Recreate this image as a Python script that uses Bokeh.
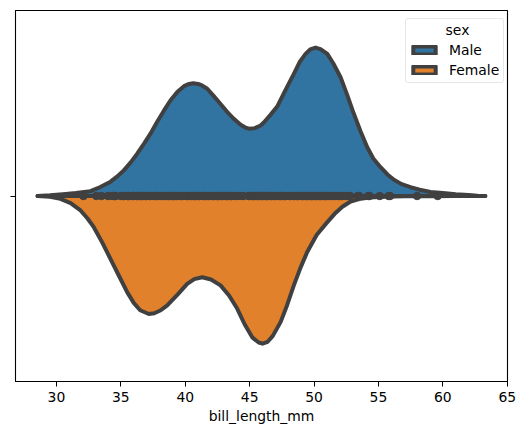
from bokeh.plotting import figure
from bokeh.models import Range1d, FixedTicker, Legend, LegendItem, ColumnDataSource, Label
from bokeh.embed import file_html
from bokeh.resources import INLINE

# ---- data (split violin of bill_length_mm by sex) ----
male_x = [28.53, 29.5, 30.5, 31.5, 32.64, 33.4, 34.2, 34.7, 35.23, 35.75, 36.27, 36.8, 37.3,
          37.8, 38.34, 38.86, 39.38, 39.9, 40.3, 40.62, 41.0, 41.3, 41.71, 42.2, 42.74, 43.25,
          43.77, 44.3, 44.7, 45.02, 45.4, 45.85, 46.1, 46.6, 47.14, 47.7, 48.43, 48.9, 49.34,
          49.7, 50.12, 50.5, 51.03, 51.5, 52.06, 52.6, 53.09, 53.6, 54.13, 54.6, 55.16, 55.7,
          56.2, 56.8, 57.49, 58.2, 59.05, 60.0, 61.0, 62.0, 62.7, 63.3]
male_w = [0.000, 0.002, 0.005, 0.008, 0.013, 0.024, 0.0386, 0.052, 0.069, 0.090, 0.114, 0.141,
          0.168, 0.199, 0.230, 0.258, 0.280, 0.296, 0.302, 0.304, 0.302, 0.298, 0.289, 0.270,
          0.248, 0.227, 0.208, 0.192, 0.184, 0.181, 0.183, 0.190, 0.198, 0.218, 0.241, 0.280,
          0.329, 0.362, 0.383, 0.395, 0.400, 0.396, 0.383, 0.357, 0.320, 0.270, 0.2215, 0.175,
          0.1315, 0.101, 0.0776, 0.058, 0.0437, 0.032, 0.0237, 0.017, 0.011, 0.008, 0.005,
          0.003, 0.001, 0.000]

female_x = [28.53, 29.5, 30.31, 31.1, 31.87, 32.4, 32.9, 33.55, 34.2, 34.85, 35.49, 36.0, 36.5,
            37.17, 37.6, 38.1, 38.6, 39.4, 40.15, 40.7, 41.32, 42.0, 42.74, 43.4, 44.04, 44.6,
            45.2, 45.7, 46.0, 46.4, 46.8, 47.4, 47.9, 48.43, 48.95, 49.47, 50.2, 51.03, 51.6,
            52.2, 52.84, 53.5, 54.3, 55.5, 57.0, 59.0, 61.0, 63.3]
female_w = [0.000, 0.002, 0.0075, 0.019, 0.039, 0.060, 0.084, 0.125, 0.170, 0.215, 0.259, 0.288,
            0.308, 0.318, 0.316, 0.308, 0.295, 0.266, 0.237, 0.224, 0.219, 0.225, 0.241, 0.268,
            0.304, 0.345, 0.381, 0.395, 0.398, 0.393, 0.377, 0.340, 0.295, 0.241, 0.193, 0.151,
            0.105, 0.0705, 0.048, 0.029, 0.015, 0.008, 0.004, 0.002, 0.001, 0.0005, 0.0002, 0.000]

# observations drawn as inner points
obs = [32.1, 33.1, 33.5, 34.0, 34.1, 34.4, 34.5, 34.6, 35.0, 35.1, 35.2, 35.3, 35.5, 35.6,
       35.7, 35.9, 36.0, 36.2, 36.3, 36.4, 36.5, 36.6, 36.7, 36.8, 36.9, 37.0, 37.2, 37.3,
       37.5, 37.6, 37.7, 37.8, 37.9, 38.1, 38.2, 38.3, 38.5, 38.6, 38.7, 38.8, 38.9, 39.0,
       39.1, 39.2, 39.3, 39.5, 39.6, 39.7, 39.8, 40.1, 40.2, 40.3, 40.5, 40.6, 40.7, 40.8,
       40.9, 41.0, 41.1, 41.3, 41.4, 41.5, 41.6, 41.7, 41.8, 42.0, 42.1, 42.2, 42.3, 42.4,
       42.5, 42.6, 42.7, 42.8, 42.9, 43.1, 43.2, 43.3, 43.4, 43.5, 43.6, 43.8, 44.0, 44.1,
       44.4, 44.5, 44.9, 45.0, 45.1, 45.2, 45.3, 45.4, 45.5, 45.6, 45.7, 45.8, 45.9, 46.0,
       46.1, 46.2, 46.3, 46.4, 46.5, 46.6, 46.7, 46.8, 46.9, 47.0, 47.2, 47.3, 47.4, 47.5,
       47.6, 47.7, 47.8, 48.1, 48.2, 48.4, 48.5, 48.6, 48.7, 48.8, 49.0, 49.1, 49.2, 49.3,
       49.4, 49.5, 49.6, 49.7, 49.8, 49.9, 50.0, 50.1, 50.2, 50.3, 50.4, 50.5, 50.6, 50.7,
       50.8, 50.9, 51.0, 51.1, 51.3, 51.4, 51.5, 51.7, 51.9, 52.0, 52.1, 52.2, 52.5, 52.7,
       52.8, 53.4, 53.5, 54.2, 54.3, 55.1, 55.8, 55.9, 58.0, 59.6]

sex_labels = ["Male", "Female"]
legend_title = "sex"
colors = ["#3274a1", "#e1812c"]
x_ticks = [30, 35, 40, 45, 50, 55, 60, 65]
line_col = "#404040"
FONT = "DejaVu Sans"

p = figure(width=527, height=433, output_backend="svg", toolbar_location=None,
           x_range=Range1d(26.82, 65.02), y_range=Range1d(-0.5, 0.5))
p.min_border = 0
p.min_border_left = 15
p.min_border_right = 20
p.min_border_top = 10
p.min_border_bottom = 52
p.xgrid.visible = False
p.ygrid.visible = False
p.outline_line_color = "black"
p.outline_line_width = 1.1
p.background_fill_color = "white"
p.border_fill_color = "white"

# violin halves: polygon from outline back along centre line
male_src = ColumnDataSource(dict(x=male_x + male_x[::-1],
                                 y=male_w + [0.0 * v for v in male_w[::-1]]))
female_src = ColumnDataSource(dict(x=female_x + female_x[::-1],
                                   y=[-v for v in female_w] + [0.0 * v for v in female_w[::-1]]))

r_m = p.patch("x", "y", source=male_src, fill_color=colors[0], line_color=line_col,
              line_width=4, line_join="round")
r_f = p.patch("x", "y", source=female_src, fill_color=colors[1], line_color=line_col,
              line_width=4, line_join="round")

p.scatter(obs, [0.0 * v for v in obs], size=7.5, fill_color=line_col, line_color=line_col)

# axes
xa = p.xaxis[0]
xa.ticker = FixedTicker(ticks=x_ticks)
xa.axis_label = "bill_length_mm"
xa.axis_label_text_font = FONT
xa.axis_label_text_font_style = "normal"
xa.axis_label_text_font_size = "13.9px"
xa.axis_label_text_color = "black"
xa.axis_label_standoff = 3
xa.major_label_text_font = FONT
xa.major_label_text_font_size = "13.9px"
xa.major_label_text_color = "black"
xa.major_label_standoff = 5
xa.major_tick_in = 0
xa.major_tick_out = 5
xa.minor_tick_out = 0
xa.minor_tick_in = 0
xa.axis_line_color = "black"
xa.major_tick_line_color = "black"

ya = p.yaxis[0]
ya.ticker = FixedTicker(ticks=[0])
ya.major_label_overrides = {0: ""}
ya.major_label_text_font_size = "1px"
ya.major_label_standoff = 0
ya.major_tick_in = 0
ya.major_tick_out = 5
ya.minor_tick_out = 0
ya.minor_tick_in = 0
ya.axis_line_color = "black"
ya.major_tick_line_color = "black"

legend = Legend(items=[LegendItem(label=sex_labels[0], renderers=[r_m]),
                       LegendItem(label=sex_labels[1], renderers=[r_f])],
                location=(390, 298), title=" ")
legend.title_text_font = FONT
legend.title_text_font_size = "13.9px"
legend.title_standoff = 3
legend.label_text_font = FONT
legend.label_text_font_size = "13.9px"
legend.label_text_color = "black"
legend.label_text_baseline = "middle"
legend.glyph_width = 28
legend.glyph_height = 10
legend.label_standoff = 11
legend.spacing = 4
legend.padding = 4
legend.margin = 0
legend.border_line_color = "#d0d0d0"
legend.border_line_width = 1
legend.background_fill_alpha = 0.0
if "border_radius" in legend.properties():
    legend.border_radius = 3
p.add_layout(legend, "center")

# centred legend title (matplotlib style)
title_label = Label(x=442, y=352, x_units="screen", y_units="screen", text=legend_title,
                    text_font=FONT, text_font_size="13.9px", text_color="black",
                    text_align="center", text_baseline="middle")
p.add_layout(title_label)

open("out.html", "w").write(file_html(p, INLINE))
